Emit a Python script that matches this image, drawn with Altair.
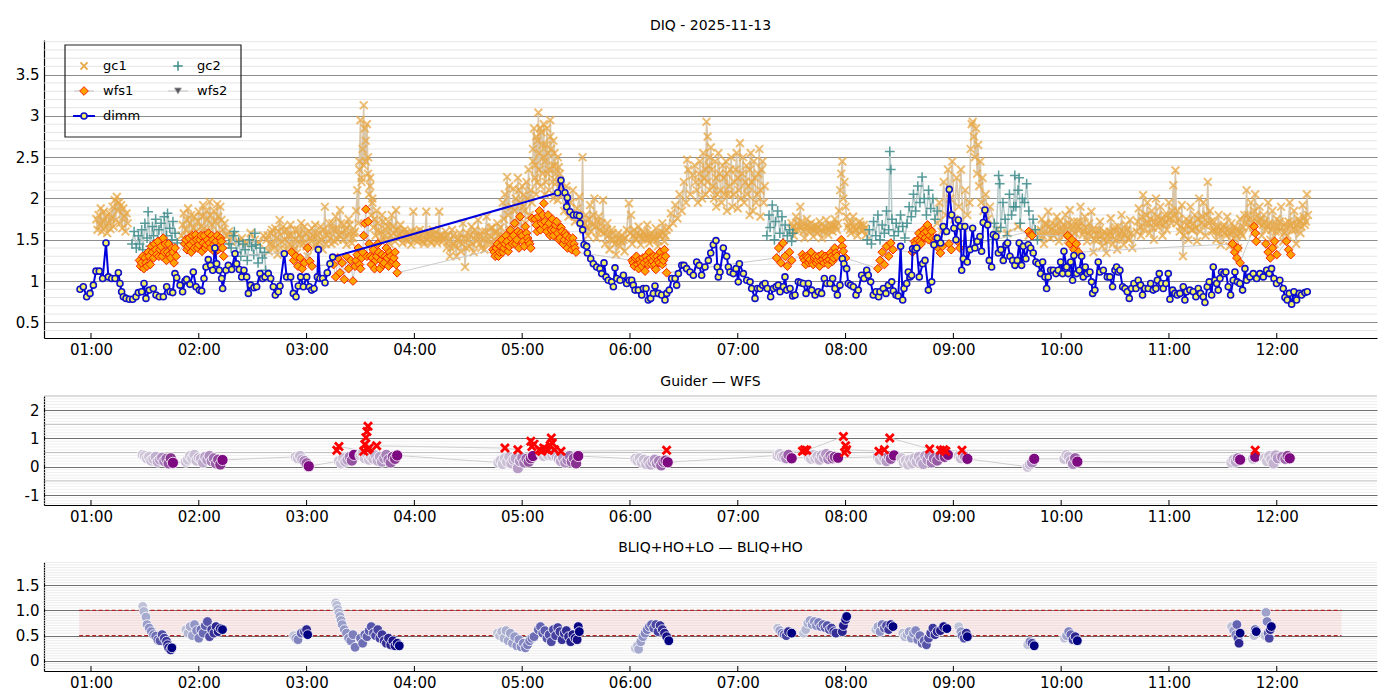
import altair as alt
import pandas as pd
import numpy as np

FONT = "DejaVu Sans"
X_DOMAIN = [0.564, 12.93]
HOUR_TICKS = [1, 2, 3, 4, 5, 6, 7, 8, 9, 10, 11, 12]
Y1_DOMAIN = [0.31, 3.92]
Y2_DOMAIN = [-1.35, 2.5]
Y3_DOMAIN = [-0.2, 1.96]
BAND_LIMITS = [0.5, 1.0]
BAND_SPAN = [0.89, 12.6]
W = 1333
H1, H2, H3 = 298, 109, 109

# ---------------- DIQ panel data (hour, arcsec) ----------------
dimm = [
    (0.898, 0.90), (0.929, 0.93), (0.960, 0.81), (0.991, 0.85), (1.022, 0.95), (1.046, 1.12), (1.077, 1.12),
    (1.108, 1.03), (1.139, 1.46), (1.161, 1.05), (1.192, 1.03), (1.223, 1.03), (1.254, 1.10), (1.269, 0.97),
    (1.284, 0.87), (1.300, 0.81), (1.325, 0.79), (1.356, 0.78), (1.387, 0.78), (1.417, 0.81), (1.439, 0.86),
    (1.470, 0.87), (1.492, 0.97), (1.510, 0.79), (1.541, 0.89), (1.578, 0.91), (1.603, 0.83), (1.634, 0.81),
    (1.671, 0.81), (1.702, 0.93), (1.733, 0.87), (1.758, 0.86), (1.779, 1.09), (1.795, 1.04), (1.826, 0.95),
    (1.850, 0.87), (1.872, 1.00), (1.887, 1.02), (1.918, 0.96), (1.949, 1.11), (1.974, 0.93), (2.005, 0.89),
    (2.027, 0.88), (2.048, 1.03), (2.067, 1.17), (2.088, 1.26), (2.110, 1.19), (2.129, 1.13), (2.150, 1.40),
    (2.166, 1.21), (2.190, 1.13), (2.212, 1.03), (2.221, 0.91), (2.252, 1.13), (2.274, 1.19), (2.305, 1.14),
    (2.336, 1.33), (2.351, 1.21), (2.376, 1.14), (2.398, 1.05), (2.419, 1.13), (2.444, 1.05), (2.460, 0.85),
    (2.481, 0.95), (2.512, 0.92), (2.537, 0.93), (2.568, 1.09), (2.592, 1.03), (2.614, 1.05), (2.645, 1.09),
    (2.667, 1.03), (2.691, 0.93), (2.710, 0.83), (2.738, 0.87), (2.753, 0.94), (2.793, 1.33), (2.815, 1.05),
    (2.852, 1.05), (2.877, 0.85), (2.902, 0.81), (2.923, 0.94), (2.945, 1.05), (2.970, 0.93), (3.001, 1.05),
    (3.025, 0.93), (3.047, 0.89), (3.069, 0.91), (3.100, 1.05), (3.109, 1.38), (3.124, 1.03), (3.149, 1.03),
    (3.171, 0.98), (3.192, 1.10), (3.217, 1.21), (3.242, 1.29),
    (5.329, 2.07), (5.360, 2.22), (5.397, 2.07), (5.413, 1.90), (5.419, 2.01), (5.444, 1.84), (5.475, 1.80),
    (5.506, 1.80), (5.530, 1.79), (5.537, 1.70), (5.561, 1.62), (5.574, 1.44), (5.598, 1.42), (5.605, 1.34),
    (5.636, 1.27), (5.660, 1.21), (5.691, 1.17), (5.722, 1.15), (5.738, 1.09), (5.759, 1.22), (5.778, 1.05),
    (5.799, 1.01), (5.830, 0.99), (5.846, 0.93), (5.861, 1.16), (5.877, 1.03), (5.908, 1.01), (5.939, 1.07),
    (5.969, 0.97), (5.994, 1.01), (6.016, 1.01), (6.031, 0.95), (6.047, 0.89), (6.078, 0.89), (6.109, 0.83),
    (6.124, 0.91), (6.149, 0.91), (6.170, 0.77), (6.192, 0.79), (6.217, 0.85), (6.232, 0.94), (6.263, 0.85),
    (6.294, 0.83), (6.325, 0.77), (6.341, 0.85), (6.365, 0.89), (6.387, 1.03), (6.418, 1.03), (6.433, 0.95),
    (6.449, 1.09), (6.480, 1.19), (6.501, 1.19), (6.526, 1.15), (6.557, 1.11), (6.588, 1.07), (6.619, 1.23),
    (6.643, 1.19), (6.665, 1.07), (6.696, 1.17), (6.727, 1.25), (6.749, 1.34), (6.773, 1.44), (6.798, 1.49),
    (6.810, 1.17), (6.820, 1.05), (6.835, 1.11), (6.866, 1.40), (6.897, 1.30), (6.913, 1.17), (6.928, 1.11),
    (6.959, 1.09), (6.984, 1.15), (7.005, 0.99), (7.015, 1.21), (7.052, 1.09), (7.083, 1.01), (7.114, 0.99),
    (7.129, 0.91), (7.160, 0.79), (7.182, 0.91), (7.206, 0.91), (7.231, 0.95), (7.253, 0.97), (7.274, 0.91),
    (7.305, 0.81), (7.330, 0.91), (7.355, 0.93), (7.376, 0.95), (7.392, 0.87), (7.423, 0.93), (7.438, 1.05),
    (7.454, 0.89), (7.485, 0.91), (7.509, 0.82), (7.531, 0.83), (7.562, 0.99), (7.583, 0.98), (7.608, 0.97),
    (7.633, 0.85), (7.655, 0.97), (7.686, 0.89), (7.717, 0.83), (7.747, 0.87), (7.778, 0.85), (7.803, 1.03),
    (7.825, 0.97), (7.856, 0.97), (7.880, 1.03), (7.902, 0.91), (7.924, 0.83), (7.948, 0.95), (7.970, 1.27),
    (7.985, 1.21), (8.010, 1.15), (8.025, 0.97), (8.047, 0.95), (8.072, 0.93), (8.097, 0.83), (8.118, 0.89),
    (8.149, 1.07), (8.171, 1.03), (8.196, 1.13), (8.211, 1.07), (8.233, 0.99), (8.257, 0.83), (8.282, 0.87),
    (8.307, 0.81), (8.319, 0.87), (8.350, 0.91), (8.375, 0.85), (8.397, 0.95), (8.428, 0.99), (8.443, 0.88),
    (8.468, 0.83), (8.489, 0.82), (8.511, 1.42), (8.530, 0.77), (8.542, 0.91), (8.567, 0.97), (8.582, 1.11),
    (8.598, 1.05), (8.613, 1.07), (8.622, 1.39), (8.644, 1.38), (8.660, 1.40), (8.684, 1.05), (8.715, 1.21),
    (8.737, 1.25), (8.768, 0.89), (8.799, 0.99), (8.820, 1.44), (8.851, 1.52),
    (8.882, 1.46), (8.906, 1.66), (8.937, 1.60), (8.962, 2.11), (8.984, 1.80), (9.005, 1.64), (9.024, 1.50),
    (9.046, 1.74), (9.067, 1.66), (9.077, 1.13), (9.092, 1.27), (9.107, 1.66), (9.129, 1.23), (9.154, 1.38),
    (9.179, 1.64), (9.200, 1.40), (9.222, 1.48), (9.247, 1.54), (9.262, 1.36), (9.277, 1.71), (9.293, 1.86),
    (9.318, 1.68), (9.333, 1.25), (9.355, 1.17), (9.370, 1.56), (9.395, 1.54), (9.417, 1.34), (9.441, 1.38),
    (9.463, 1.25), (9.488, 1.44), (9.503, 1.46), (9.525, 1.30), (9.550, 1.25), (9.571, 1.19), (9.593, 1.25),
    (9.611, 1.46), (9.633, 1.19), (9.649, 1.42), (9.673, 1.27), (9.695, 1.44), (9.717, 1.40), (9.741, 1.34),
    (9.766, 1.23), (9.788, 1.21), (9.809, 1.09), (9.828, 1.23), (9.850, 1.05), (9.865, 0.91), (9.880, 1.05),
    (9.902, 1.13), (9.927, 1.13), (9.952, 1.09), (9.973, 1.13), (9.995, 1.23), (10.013, 1.09), (10.026, 1.36),
    (10.050, 1.17), (10.066, 1.09), (10.088, 1.23), (10.106, 1.01), (10.118, 1.31), (10.143, 1.09), (10.168, 1.13),
    (10.190, 1.30), (10.205, 1.05), (10.224, 1.17), (10.242, 1.09), (10.267, 1.11), (10.282, 0.99), (10.292, 0.85),
    (10.313, 0.89), (10.344, 1.23), (10.360, 1.11), (10.391, 1.13), (10.428, 1.05), (10.452, 1.05), (10.477, 0.93),
    (10.499, 1.13), (10.514, 1.17), (10.530, 1.11), (10.545, 1.13), (10.570, 0.93), (10.592, 0.91), (10.613, 0.87),
    (10.632, 0.79), (10.653, 0.91), (10.675, 0.97), (10.694, 0.91), (10.715, 1.01), (10.737, 0.95), (10.755, 0.83),
    (10.777, 0.91), (10.808, 0.91), (10.830, 0.97), (10.854, 0.89), (10.879, 0.91), (10.892, 1.01), (10.910, 1.09),
    (10.932, 0.97), (10.947, 0.91), (10.972, 0.97), (10.994, 1.09), (11.009, 0.78), (11.034, 0.89), (11.055, 0.85),
    (11.077, 0.83), (11.102, 0.85), (11.133, 0.93), (11.148, 0.77), (11.164, 0.87), (11.194, 0.89), (11.225, 0.87),
    (11.250, 0.81), (11.272, 0.91), (11.293, 0.85), (11.318, 0.81), (11.334, 0.74), (11.355, 0.93), (11.374, 0.99),
    (11.396, 0.83), (11.411, 1.17), (11.426, 1.01), (11.442, 0.97), (11.457, 0.89), (11.473, 1.03), (11.488, 1.11),
    (11.510, 1.09), (11.528, 1.11), (11.550, 0.93), (11.572, 0.83), (11.596, 1.01), (11.612, 1.11), (11.634, 0.99),
    (11.658, 0.97), (11.683, 0.89), (11.705, 1.15), (11.720, 1.01), (11.751, 1.05), (11.782, 1.09), (11.813, 1.03),
    (11.844, 1.09), (11.875, 1.05), (11.906, 1.13), (11.930, 1.09), (11.952, 1.15), (11.974, 1.03), (11.998, 0.97),
    (12.029, 1.01), (12.060, 0.91), (12.076, 0.80), (12.097, 0.77), (12.116, 0.85), (12.138, 0.72), (12.159, 0.87),
    (12.184, 0.77), (12.209, 0.85), (12.230, 0.83), (12.261, 0.86), (12.283, 0.87),
]

gc1_main = [
    (1.05, 1.75), (1.06, 1.62), (1.07, 1.80), (1.08, 1.68), (1.09, 1.88), (1.10, 1.60), (1.11, 1.72), (1.12, 1.84),
    (1.13, 1.65), (1.14, 1.78), (1.15, 1.58), (1.16, 1.70), (1.17, 1.82), (1.18, 1.63), (1.19, 1.76), (1.20, 1.90),
    (1.21, 1.66), (1.22, 1.98), (1.23, 1.74), (1.24, 2.02), (1.25, 1.85), (1.26, 1.95), (1.27, 1.70), (1.28, 1.92),
    (1.29, 1.64), (1.30, 1.88), (1.31, 1.78), (1.32, 1.60), (1.33, 1.82), (1.34, 1.70),
    (1.84, 1.55), (1.85, 1.68), (1.86, 1.82), (1.87, 1.50), (1.88, 1.62), (1.89, 1.74), (1.90, 1.88), (1.91, 1.58),
    (1.92, 1.70), (1.93, 1.80), (1.94, 1.50), (1.95, 1.64), (1.96, 1.78), (1.97, 1.52), (1.98, 1.60), (1.99, 1.72),
    (2.00, 1.84), (2.01, 1.56), (2.02, 1.66), (2.03, 1.78), (2.04, 1.92), (2.05, 1.64), (2.06, 1.58), (2.07, 1.85),
    (2.08, 1.75), (2.09, 1.60), (2.10, 1.96), (2.11, 1.80), (2.12, 1.68), (2.13, 1.52), (2.14, 1.85), (2.15, 1.72),
    (2.16, 1.55), (2.17, 1.93), (2.18, 1.78), (2.19, 1.58), (2.20, 1.90), (2.21, 1.74), (2.22, 1.62), (2.23, 1.50),
    (2.24, 1.70), (2.26, 1.55), (2.28, 1.60), (2.30, 1.48),
    (2.32, 1.55), (2.36, 1.48), (2.40, 1.52), (2.44, 1.45), (2.48, 1.58), (2.52, 1.50), (2.56, 1.46), (2.60, 1.55),
    (2.63, 1.50), (2.65, 1.36), (2.67, 1.58), (2.69, 1.44), (2.71, 1.64), (2.73, 1.32), (2.75, 1.74), (2.77, 1.48),
    (2.79, 1.60), (2.81, 1.38), (2.83, 1.55), (2.85, 1.68), (2.87, 1.42), (2.89, 1.62), (2.91, 1.34), (2.93, 1.56),
    (2.95, 1.70), (2.97, 1.45), (2.99, 1.58), (3.01, 1.30), (3.03, 1.52), (3.05, 1.64), (3.07, 1.40), (3.09, 1.56),
    (3.11, 1.48), (3.13, 1.66), (3.15, 1.38), (3.17, 1.90), (3.19, 1.55), (3.21, 1.70), (3.23, 1.45), (3.25, 1.62),
    (3.27, 1.78), (3.29, 1.50), (3.31, 1.86), (3.33, 1.58), (3.35, 1.68), (3.37, 1.44), (3.39, 1.75), (3.41, 1.60),
    (3.43, 1.52),
    (3.45, 1.60), (3.46, 1.85), (3.47, 2.10), (3.48, 1.70), (3.49, 2.35), (3.49, 2.45), (3.50, 2.95), (3.51, 2.20),
    (3.51, 2.25), (3.52, 2.60), (3.53, 3.13), (3.53, 2.40), (3.54, 2.85), (3.55, 2.45), (3.55, 2.70), (3.56, 2.90),
    (3.57, 2.30), (3.57, 2.50), (3.58, 2.05), (3.59, 2.15), (3.59, 2.25), (3.60, 1.80), (3.61, 1.95), (3.61, 2.00),
    (3.62, 1.65), (3.63, 1.75), (3.64, 1.55), (3.65, 1.85),
    (3.67, 1.62), (3.69, 1.48), (3.71, 1.72), (3.73, 1.55), (3.75, 1.66), (3.77, 1.45), (3.79, 1.80), (3.81, 1.58),
    (3.83, 1.86), (3.85, 1.52), (3.87, 1.68), (3.89, 1.46), (3.91, 1.62), (3.93, 1.50), (3.95, 1.58), (3.97, 1.44),
    (3.99, 1.84), (4.01, 1.55), (4.03, 1.48), (4.05, 1.62), (4.07, 1.50), (4.09, 1.45), (4.11, 1.84), (4.13, 1.58),
    (4.15, 1.48), (4.17, 1.62), (4.19, 1.52), (4.21, 1.46), (4.23, 1.84), (4.25, 1.56), (4.27, 1.50), (4.29, 1.60),
    (4.30, 1.40), (4.31, 1.55), (4.33, 1.30), (4.35, 1.62), (4.37, 1.45), (4.39, 1.30), (4.41, 1.52), (4.43, 1.36),
    (4.45, 1.70), (4.47, 1.17), (4.49, 1.58), (4.51, 1.42), (4.53, 1.66), (4.55, 1.35), (4.57, 1.55), (4.59, 1.74),
    (4.61, 1.45), (4.63, 1.60), (4.65, 1.38), (4.67, 1.78), (4.69, 1.50), (4.71, 1.64), (4.73, 1.42), (4.75, 1.58),
    (4.77, 1.70), (4.79, 1.48),
    (4.81, 1.55), (4.83, 1.75), (4.85, 1.45), (4.86, 2.26), (4.87, 1.80), (4.89, 1.62), (4.91, 1.50), (4.92, 2.12),
    (4.93, 1.85), (4.95, 1.66), (4.97, 1.72), (4.97, 2.10), (4.99, 1.58), (5.01, 1.90), (5.01, 2.04), (5.03, 1.70),
    (5.05, 2.00), (5.07, 1.80),
    (5.08, 2.10), (5.09, 1.95), (5.10, 2.45), (5.12, 2.25), (5.13, 2.05), (5.14, 2.70), (5.15, 3.04), (5.16, 2.35),
    (5.17, 2.15), (5.18, 2.80), (5.20, 2.50), (5.21, 2.05), (5.22, 2.65), (5.24, 2.30), (5.25, 2.10), (5.26, 2.75),
    (5.28, 2.40), (5.29, 2.00), (5.30, 2.55), (5.32, 2.20), (5.33, 1.98), (5.34, 2.38), (5.36, 2.12),
    (5.37, 2.05), (5.39, 1.85), (5.41, 2.15), (5.43, 1.78), (5.45, 1.95), (5.47, 2.10), (5.49, 1.72), (5.51, 1.88),
    (5.53, 2.02), (5.55, 1.70),
    (5.56, 2.50), (5.57, 1.62), (5.59, 1.80), (5.61, 1.55), (5.63, 1.92), (5.65, 1.68), (5.67, 2.00), (5.69, 1.52),
    (5.71, 1.78), (5.73, 1.60), (5.75, 1.98), (5.77, 1.45), (5.79, 1.70), (5.81, 1.38), (5.83, 1.62), (5.85, 1.50),
    (5.87, 1.32), (5.89, 1.58), (5.91, 1.42), (5.93, 1.55), (5.95, 1.36), (5.97, 1.62),
    (5.99, 1.94), (6.00, 1.58), (6.01, 1.80), (6.02, 1.45), (6.04, 1.62), (6.06, 1.50), (6.08, 1.66), (6.10, 1.44),
    (6.12, 1.60), (6.14, 1.52), (6.16, 1.68), (6.18, 1.46), (6.20, 1.58), (6.22, 1.50), (6.24, 1.64), (6.26, 1.42),
    (6.28, 1.56), (6.30, 1.70), (6.32, 1.48), (6.34, 1.62),
    (6.36, 1.65), (6.38, 1.82), (6.40, 1.70), (6.42, 1.92), (6.44, 1.76), (6.46, 2.05), (6.48, 1.85), (6.50, 2.20),
    (6.52, 1.95), (6.53, 2.47), (6.54, 2.35), (6.56, 2.05), (6.58, 2.28), (6.60, 2.40), (6.62, 2.10), (6.64, 2.30),
    (6.66, 2.20), (6.67, 2.00), (6.68, 2.55), (6.70, 2.35), (6.71, 2.93), (6.72, 2.75), (6.73, 2.40), (6.74, 2.10),
    (6.75, 2.62), (6.77, 2.15), (6.79, 2.45), (6.80, 1.90), (6.81, 2.05), (6.83, 2.30), (6.85, 1.95),
    (6.87, 2.25), (6.89, 2.45), (6.90, 1.85), (6.91, 2.05), (6.93, 2.35), (6.95, 1.90), (6.97, 2.20), (6.99, 2.55),
    (7.00, 1.88), (7.01, 2.10), (7.02, 2.67), (7.04, 2.30), (7.06, 1.95), (7.08, 2.40), (7.10, 2.15), (7.11, 1.80),
    (7.12, 2.55), (7.14, 1.85), (7.16, 2.25), (7.18, 2.05), (7.20, 2.60), (7.21, 1.78), (7.22, 2.35), (7.24, 1.95),
    (7.25, 2.15),
    (7.50, 1.70), (7.52, 1.55), (7.54, 1.78), (7.56, 1.62), (7.58, 1.90), (7.60, 1.66), (7.62, 1.52), (7.64, 1.75),
    (7.66, 1.60), (7.68, 1.70), (7.70, 1.54), (7.72, 1.68), (7.74, 1.58), (7.76, 1.72), (7.78, 1.52), (7.80, 1.64),
    (7.82, 1.74), (7.84, 1.56), (7.86, 1.68), (7.88, 1.60), (7.90, 1.75), (7.92, 1.62), (7.94, 1.85), (7.95, 2.10),
    (7.96, 2.30), (7.97, 2.45), (7.98, 2.00), (7.99, 2.20), (8.00, 1.90), (8.01, 1.78), (8.03, 1.70), (8.05, 1.58),
    (8.07, 1.78), (8.09, 1.62), (8.11, 1.55), (8.13, 1.72), (8.15, 1.60), (8.17, 1.68), (8.19, 1.56),
    (8.85, 1.70), (8.87, 1.95), (8.89, 1.60), (8.91, 2.20), (8.93, 1.80), (8.95, 2.35), (8.97, 2.00), (8.99, 2.45),
    (9.01, 1.75), (9.03, 2.25), (9.05, 1.90), (9.07, 2.35), (9.09, 1.65), (9.11, 2.10), (9.13, 1.80), (9.15, 1.95),
    (9.16, 2.60), (9.17, 2.90), (9.18, 2.93), (9.19, 2.75), (9.20, 2.50), (9.21, 2.85), (9.22, 2.30), (9.23, 2.65),
    (9.24, 2.15), (9.25, 2.45), (9.26, 1.95), (9.27, 2.25), (9.28, 1.85), (9.30, 2.05), (9.32, 1.75), (9.34, 1.90),
    (9.40, 1.62), (9.50, 1.58), (9.60, 1.66), (9.70, 1.55), (9.76, 1.60),
    (9.80, 1.55), (9.82, 1.75), (9.84, 1.45), (9.86, 1.68), (9.88, 1.84), (9.90, 1.52), (9.92, 1.70), (9.94, 1.60),
    (9.96, 1.78), (9.98, 1.48), (10.00, 1.65), (10.02, 1.55), (10.04, 1.80), (10.06, 1.50), (10.08, 1.86),
    (10.10, 1.62), (10.12, 1.72), (10.14, 1.44), (10.16, 1.66), (10.18, 1.90), (10.20, 1.56), (10.22, 1.78),
    (10.24, 1.48), (10.26, 1.70), (10.28, 1.84), (10.30, 1.35), (10.32, 1.62), (10.34, 1.50), (10.36, 1.72),
    (10.38, 1.42), (10.40, 1.60), (10.42, 1.34), (10.44, 1.55), (10.46, 1.76), (10.48, 1.45), (10.50, 1.65),
    (10.52, 1.38), (10.54, 1.58), (10.56, 1.80), (10.58, 1.44), (10.60, 1.68), (10.62, 1.52), (10.64, 1.74),
    (10.66, 1.40), (10.70, 1.60), (10.72, 1.88), (10.74, 1.55), (10.76, 2.04), (10.78, 1.70), (10.80, 1.95),
    (10.82, 1.58), (10.84, 1.85), (10.86, 1.50), (10.88, 2.00), (10.90, 1.65), (10.92, 1.90), (10.94, 1.55),
    (10.96, 1.80), (10.98, 1.62), (11.00, 1.95), (11.02, 1.70), (11.04, 2.16), (11.06, 2.34), (11.08, 1.85),
    (11.10, 1.60), (11.12, 1.92), (11.13, 1.30), (11.14, 1.55), (11.16, 1.75), (11.18, 1.50), (11.20, 1.90),
    (11.22, 1.62), (11.24, 1.80), (11.26, 1.48), (11.28, 2.00), (11.30, 1.70), (11.32, 1.95), (11.34, 1.55),
    (11.36, 2.20), (11.38, 1.85), (11.40, 1.60), (11.42, 1.72), (11.44, 1.50), (11.46, 1.80), (11.48, 1.44),
    (11.50, 1.66), (11.52, 1.58), (11.54, 1.78), (11.56, 1.42), (11.58, 1.70), (11.60, 1.52), (11.62, 1.62),
    (11.64, 1.40), (11.66, 1.75), (11.68, 1.55), (11.70, 1.80), (11.72, 2.10), (11.74, 1.65), (11.76, 1.95),
    (11.78, 1.58), (11.80, 2.05), (11.82, 1.72), (11.84, 1.90), (11.86, 1.55), (11.88, 1.80), (11.90, 1.62),
    (11.92, 1.95), (11.94, 1.50), (11.96, 1.85), (11.98, 1.45), (12.00, 1.75), (12.02, 1.60), (12.04, 1.90),
    (12.06, 1.48), (12.08, 1.70), (12.10, 1.55), (12.12, 1.95), (12.14, 1.62), (12.16, 1.85), (12.18, 1.45),
    (12.20, 1.75), (12.22, 1.58), (12.24, 1.92), (12.26, 1.68), (12.28, 2.05), (12.29, 1.80),
]

# denser interior readings of the gc1 cloud
gc1_core = [
    (2.64, 1.55), (2.66, 1.45), (2.68, 1.62), (2.70, 1.40), (2.72, 1.52), (2.74, 1.60), (2.76, 1.40), (2.78, 1.66),
    (2.80, 1.50), (2.82, 1.62), (2.84, 1.45), (2.86, 1.55), (2.88, 1.38), (2.90, 1.50), (2.92, 1.62), (2.94, 1.45),
    (2.96, 1.52), (2.98, 1.66), (3.00, 1.42), (3.02, 1.60), (3.04, 1.48), (3.06, 1.55), (3.08, 1.68), (3.10, 1.45),
    (3.12, 1.58), (3.14, 1.50), (3.16, 1.62), (3.18, 1.45), (3.20, 1.60), (3.22, 1.52), (3.24, 1.70), (3.26, 1.48),
    (3.28, 1.62), (3.30, 1.56), (3.32, 1.70), (3.34, 1.50), (3.36, 1.62), (3.38, 1.55), (3.40, 1.68), (3.42, 1.46),
    (3.44, 1.58),
    (3.66, 1.70), (3.68, 1.58), (3.70, 1.80), (3.72, 1.50), (3.74, 1.62), (3.76, 1.72), (3.78, 1.55), (3.80, 1.66),
    (3.82, 1.48), (3.84, 1.62), (3.86, 1.56), (3.88, 1.60), (3.90, 1.52), (3.92, 1.58), (3.94, 1.48), (3.96, 1.55),
    (3.98, 1.60), (4.00, 1.50), (4.02, 1.60), (4.04, 1.52), (4.06, 1.56), (4.08, 1.48), (4.10, 1.58), (4.12, 1.50),
    (4.14, 1.55), (4.16, 1.46), (4.18, 1.56), (4.20, 1.60), (4.22, 1.50), (4.24, 1.55), (4.26, 1.48), (4.28, 1.54),
    (4.32, 1.48), (4.34, 1.40), (4.36, 1.55), (4.38, 1.42), (4.40, 1.50), (4.42, 1.58), (4.44, 1.45), (4.46, 1.52),
    (4.48, 1.40), (4.50, 1.50), (4.52, 1.56), (4.54, 1.45), (4.56, 1.62), (4.58, 1.48), (4.60, 1.55), (4.62, 1.40),
    (4.64, 1.52), (4.66, 1.60), (4.68, 1.45), (4.70, 1.55), (4.72, 1.65), (4.74, 1.50), (4.76, 1.60), (4.78, 1.55),
    (4.80, 1.65),
    (4.82, 1.95), (4.84, 2.05), (4.88, 2.15), (4.90, 1.90), (4.94, 2.00), (4.96, 2.25), (4.98, 1.95), (5.00, 2.15),
    (5.02, 1.85), (5.04, 2.20), (5.06, 2.35),
    (5.10, 2.60), (5.11, 2.85), (5.12, 2.40), (5.13, 2.75), (5.14, 2.20), (5.16, 2.55), (5.17, 2.85), (5.19, 2.65),
    (5.19, 2.30), (5.20, 2.90), (5.21, 2.45), (5.22, 2.20), (5.23, 2.85), (5.24, 2.55), (5.25, 2.35), (5.26, 2.95),
    (5.27, 2.60), (5.28, 2.20), (5.29, 2.70), (5.30, 2.40), (5.31, 2.30), (5.33, 2.50), (5.35, 2.30),
    (5.58, 1.70), (5.60, 1.65), (5.62, 1.75), (5.64, 1.60), (5.66, 1.80), (5.68, 1.66), (5.70, 1.72), (5.72, 1.62),
    (5.74, 1.70), (5.76, 1.58), (5.78, 1.62), (5.80, 1.55), (5.82, 1.50), (5.84, 1.58), (5.86, 1.45), (5.88, 1.50),
    (5.90, 1.52), (5.92, 1.48), (5.94, 1.50), (5.96, 1.52), (6.03, 1.55), (6.05, 1.52), (6.07, 1.58), (6.09, 1.55),
    (6.11, 1.52), (6.13, 1.58), (6.15, 1.55), (6.17, 1.50), (6.19, 1.55), (6.21, 1.52), (6.23, 1.55), (6.25, 1.50),
    (6.27, 1.55), (6.29, 1.60), (6.31, 1.58), (6.33, 1.55),
    (6.61, 2.20), (6.63, 1.95), (6.65, 2.45), (6.69, 2.25), (6.70, 2.05), (6.72, 2.20), (6.74, 2.50), (6.76, 2.35),
    (6.78, 2.00), (6.80, 2.25), (6.82, 2.55), (6.84, 2.10), (6.86, 2.40), (6.88, 2.05), (6.90, 2.30), (6.92, 2.15),
    (6.94, 2.50), (6.96, 2.05), (6.98, 2.35), (7.00, 2.25), (7.03, 2.00), (7.05, 2.50), (7.07, 2.20), (7.09, 2.05),
    (7.11, 2.35), (7.13, 2.20), (7.15, 2.45), (7.17, 1.95), (7.19, 2.30), (7.21, 2.10), (7.23, 2.45),
    (7.51, 1.66), (7.53, 1.62), (7.55, 1.70), (7.57, 1.66), (7.59, 1.72), (7.61, 1.60), (7.63, 1.66), (7.65, 1.68),
    (7.67, 1.64), (7.69, 1.62), (7.71, 1.62), (7.73, 1.64), (7.75, 1.65), (7.77, 1.62), (7.79, 1.60), (7.81, 1.66),
    (7.83, 1.64), (7.85, 1.62), (7.87, 1.66), (7.89, 1.68), (7.91, 1.66), (7.93, 1.70), (8.02, 1.66), (8.04, 1.62),
    (8.06, 1.70), (8.08, 1.66), (8.10, 1.62), (8.12, 1.66), (8.14, 1.68), (8.16, 1.62), (8.18, 1.64),
    (9.81, 1.62), (9.83, 1.55), (9.85, 1.70), (9.87, 1.58), (9.89, 1.66), (9.91, 1.62), (9.93, 1.55), (9.95, 1.68),
    (9.97, 1.58), (9.99, 1.72), (10.01, 1.60), (10.03, 1.68), (10.05, 1.62), (10.07, 1.70), (10.09, 1.55),
    (10.11, 1.66), (10.13, 1.58), (10.15, 1.72), (10.17, 1.62), (10.19, 1.70), (10.21, 1.60), (10.23, 1.65),
    (10.25, 1.58), (10.27, 1.55), (10.29, 1.62), (10.31, 1.50), (10.33, 1.56), (10.35, 1.62), (10.37, 1.55),
    (10.39, 1.50), (10.41, 1.58), (10.43, 1.48), (10.45, 1.60), (10.47, 1.55), (10.49, 1.62), (10.51, 1.50),
    (10.53, 1.66), (10.55, 1.52), (10.57, 1.60), (10.59, 1.55), (10.61, 1.62), (10.63, 1.50), (10.65, 1.58),
    (10.71, 1.72), (10.73, 1.65), (10.75, 1.78), (10.77, 1.62), (10.79, 1.80), (10.81, 1.70), (10.83, 1.75),
    (10.85, 1.65), (10.87, 1.72), (10.89, 1.78), (10.91, 1.70), (10.93, 1.75), (10.95, 1.68), (10.97, 1.72),
    (10.99, 1.80), (11.01, 1.75), (11.03, 1.85), (11.05, 1.78), (11.07, 1.70), (11.09, 1.75), (11.11, 1.66),
    (11.15, 1.62), (11.17, 1.68), (11.19, 1.72), (11.21, 1.62), (11.23, 1.70), (11.25, 1.64), (11.27, 1.75),
    (11.29, 1.60), (11.31, 1.78), (11.33, 1.68), (11.35, 1.80), (11.37, 1.70), (11.39, 1.72), (11.41, 1.62),
    (11.43, 1.60), (11.45, 1.65), (11.47, 1.58), (11.49, 1.62), (11.51, 1.68), (11.53, 1.55), (11.55, 1.62),
    (11.57, 1.58), (11.59, 1.60), (11.61, 1.66), (11.63, 1.55), (11.65, 1.62), (11.67, 1.58), (11.69, 1.65),
    (11.71, 1.72), (11.73, 1.80), (11.75, 1.75), (11.77, 1.70), (11.79, 1.85), (11.81, 1.78), (11.83, 1.70),
    (11.85, 1.75), (11.87, 1.68), (11.89, 1.72), (11.91, 1.66), (11.93, 1.70), (11.95, 1.62), (11.97, 1.68),
    (11.99, 1.60), (12.01, 1.66), (12.03, 1.72), (12.05, 1.65), (12.07, 1.58), (12.09, 1.65), (12.11, 1.72),
    (12.13, 1.68), (12.15, 1.70), (12.17, 1.62), (12.19, 1.68), (12.21, 1.72), (12.23, 1.66), (12.25, 1.78),
    (12.27, 1.72),
]

gc2 = [
    (1.38, 1.45), (1.40, 1.60), (1.42, 1.40), (1.44, 1.55), (1.45, 1.45), (1.47, 1.62), (1.48, 1.38), (1.50, 1.70),
    (1.52, 1.52), (1.53, 1.84), (1.55, 1.42), (1.57, 1.66), (1.58, 1.55), (1.60, 1.75), (1.62, 1.48), (1.63, 1.62),
    (1.65, 1.70), (1.67, 1.40), (1.68, 1.78), (1.70, 1.55), (1.71, 1.82), (1.73, 1.64), (1.75, 1.50), (1.76, 1.72),
    (1.78, 1.58), (1.80, 1.46),
    (2.28, 1.45), (2.30, 1.40), (2.32, 1.55), (2.33, 1.60), (2.35, 1.35), (2.37, 1.48), (2.39, 1.30), (2.41, 1.45),
    (2.43, 1.38), (2.45, 1.25), (2.47, 1.50), (2.49, 1.42), (2.51, 1.32), (2.52, 1.58), (2.53, 1.44), (2.55, 1.22),
    (2.57, 1.40), (2.59, 1.28), (2.61, 1.35), (2.62, 1.13),
    (7.27, 1.55), (7.29, 1.80), (7.30, 1.65), (7.32, 1.92), (7.34, 1.50), (7.35, 1.72), (7.37, 1.85), (7.39, 1.58),
    (7.41, 1.78), (7.42, 1.46), (7.44, 1.68), (7.46, 1.55), (7.48, 1.62), (7.50, 1.48), (7.51, 1.58),
    (8.20, 1.50), (8.22, 1.62), (8.24, 1.45), (8.26, 1.72), (8.28, 1.55), (8.30, 1.80), (8.32, 1.50), (8.34, 1.68),
    (8.36, 1.58), (8.38, 1.85), (8.40, 1.62), (8.41, 2.57), (8.42, 2.35), (8.43, 1.75), (8.45, 1.55), (8.47, 1.70),
    (8.49, 1.60), (8.51, 1.80), (8.53, 1.66), (8.55, 1.52),
    (8.57, 1.70), (8.59, 1.90), (8.61, 1.78), (8.63, 2.05), (8.65, 1.85), (8.67, 2.15), (8.69, 1.95), (8.71, 2.26),
    (8.73, 2.00), (8.75, 1.80), (8.77, 2.10), (8.79, 1.88), (8.81, 2.00), (8.83, 1.75), (8.85, 1.85),
    (9.36, 1.50), (9.38, 1.70), (9.40, 1.60), (9.42, 2.28), (9.43, 2.18), (9.44, 1.65), (9.46, 1.95), (9.48, 1.75),
    (9.50, 1.55), (9.52, 2.05), (9.54, 1.80), (9.56, 1.90), (9.57, 2.28), (9.58, 1.90), (9.60, 2.10), (9.61, 2.25),
    (9.62, 1.70), (9.64, 2.00), (9.66, 1.95), (9.68, 2.18), (9.70, 1.85), (9.72, 1.55), (9.74, 1.75), (9.76, 1.62),
    (9.78, 1.50),
]

wfs1_main = [
    (1.45, 1.25), (1.46, 1.18), (1.48, 1.30), (1.49, 1.15), (1.51, 1.22), (1.53, 1.35), (1.55, 1.20), (1.56, 1.42),
    (1.58, 1.28), (1.60, 1.38), (1.62, 1.48), (1.63, 1.30), (1.65, 1.42), (1.67, 1.52), (1.68, 1.35), (1.70, 1.25),
    (1.72, 1.45), (1.73, 1.32), (1.75, 1.40), (1.77, 1.22), (1.79, 1.30),
    (1.87, 1.45), (1.89, 1.38), (1.91, 1.52), (1.93, 1.35), (1.95, 1.48), (1.97, 1.56), (1.99, 1.40), (2.01, 1.50),
    (2.03, 1.36), (2.05, 1.55), (2.07, 1.44), (2.09, 1.58), (2.11, 1.40), (2.13, 1.50), (2.15, 1.35), (2.17, 1.55),
    (2.19, 1.42), (2.21, 1.48), (2.23, 1.30),
    (2.86, 1.35), (2.88, 1.25), (2.90, 1.30), (2.92, 1.18), (2.94, 1.28), (2.96, 1.15), (2.98, 1.22), (3.01, 1.40),
    (3.03, 1.24), (3.05, 1.18),
    (3.25, 1.20), (3.27, 1.05), (3.29, 1.28), (3.31, 1.10), (3.33, 1.22), (3.35, 1.02), (3.37, 1.30), (3.39, 1.15),
    (3.41, 1.25), (3.43, 1.00), (3.45, 1.18),
    (3.46, 1.25), (3.48, 1.40), (3.50, 1.15), (3.52, 1.35), (3.53, 1.55), (3.54, 1.70), (3.55, 1.87), (3.56, 1.30),
    (3.57, 1.72), (3.58, 1.45), (3.60, 1.20), (3.62, 1.38), (3.64, 1.25), (3.66, 1.45), (3.68, 1.15), (3.70, 1.32),
    (3.72, 1.22), (3.74, 1.40), (3.76, 1.18), (3.78, 1.30), (3.80, 1.24), (3.82, 1.35), (3.84, 1.10),
    (4.73, 1.38), (4.75, 1.30), (4.77, 1.45), (4.79, 1.35), (4.81, 1.50), (4.83, 1.40), (4.85, 1.55), (4.87, 1.36),
    (4.89, 1.62), (4.91, 1.45), (4.93, 1.70), (4.95, 1.50), (4.97, 1.40), (4.98, 1.78), (4.99, 1.58), (5.01, 1.48),
    (5.03, 1.66), (5.05, 1.52), (5.07, 1.45), (5.09, 1.76),
    (5.12, 1.75), (5.14, 1.60), (5.16, 1.85), (5.18, 1.70), (5.20, 1.94), (5.22, 1.65), (5.24, 1.80), (5.26, 1.55),
    (5.28, 1.75), (5.30, 1.62), (5.32, 1.72), (5.34, 1.50), (5.36, 1.65), (5.38, 1.45), (5.40, 1.58), (5.42, 1.40),
    (5.44, 1.52), (5.46, 1.38), (5.48, 1.45), (5.50, 1.35),
    (6.02, 1.25), (6.04, 1.18), (6.06, 1.30), (6.08, 1.15), (6.10, 1.22), (6.12, 1.28), (6.14, 1.12), (6.16, 1.25),
    (6.18, 1.35), (6.20, 1.20), (6.22, 1.30), (6.24, 1.14), (6.26, 1.25), (6.28, 1.35), (6.30, 1.20), (6.32, 1.38),
    (6.34, 1.10),
    (7.36, 1.28), (7.38, 1.40), (7.40, 1.22), (7.42, 1.46), (7.44, 1.30), (7.46, 1.18), (7.48, 1.35), (7.50, 1.25),
    (7.60, 1.32), (7.62, 1.25), (7.64, 1.30), (7.66, 1.22), (7.68, 1.35), (7.70, 1.20), (7.72, 1.30), (7.74, 1.25),
    (7.76, 1.18), (7.78, 1.32), (7.80, 1.22), (7.82, 1.28), (7.84, 1.20), (7.86, 1.34), (7.88, 1.24), (7.90, 1.40),
    (7.92, 1.30), (7.96, 1.50), (7.97, 1.42), (7.98, 1.36), (8.00, 1.28),
    (8.30, 1.15), (8.32, 1.25), (8.34, 1.35), (8.36, 1.20), (8.38, 1.42), (8.40, 1.30), (8.42, 1.46), (8.44, 1.38),
    (8.62, 1.35), (8.64, 1.48), (8.66, 1.40), (8.68, 1.58), (8.70, 1.45), (8.72, 1.62), (8.74, 1.52), (8.76, 1.68),
    (8.78, 1.55), (8.80, 1.60), (8.82, 1.45), (8.84, 1.52), (8.86, 1.40), (8.88, 1.34), (8.90, 1.42),
    (8.96, 1.45), (8.98, 1.38), (9.04, 1.48), (9.06, 1.40),
    (9.70, 1.60), (9.72, 1.56), (9.73, 1.55),
    (10.06, 1.55), (10.08, 1.45), (10.10, 1.50), (10.12, 1.38), (10.14, 1.45), (10.16, 1.35),
    (11.59, 1.45), (11.61, 1.35), (11.63, 1.28), (11.64, 1.40), (11.66, 1.22),
    (11.79, 1.66), (11.80, 1.58), (11.81, 1.48),
    (11.90, 1.45), (11.92, 1.35), (11.94, 1.28), (11.96, 1.40), (11.98, 1.48), (12.00, 1.32),
    (12.09, 1.48), (12.11, 1.38), (12.13, 1.32),
]

# denser interior readings of the wfs1 clusters
wfs1_core = [
    (1.47, 1.22), (1.50, 1.28), (1.52, 1.18), (1.54, 1.30), (1.57, 1.35), (1.59, 1.45), (1.61, 1.32), (1.64, 1.38),
    (1.66, 1.30), (1.69, 1.45), (1.71, 1.35), (1.74, 1.28), (1.76, 1.35), (1.78, 1.40),
    (1.88, 1.50), (1.90, 1.42), (1.92, 1.44), (1.94, 1.55), (1.96, 1.40), (1.98, 1.50), (2.00, 1.44), (2.02, 1.55),
    (2.04, 1.46), (2.06, 1.40), (2.08, 1.50), (2.10, 1.46), (2.12, 1.55), (2.14, 1.44), (2.16, 1.48), (2.18, 1.38),
    (2.20, 1.52), (2.22, 1.40),
    (3.47, 1.32), (3.49, 1.20), (3.51, 1.28), (3.59, 1.30), (3.61, 1.28), (3.63, 1.15), (3.65, 1.30), (3.67, 1.35),
    (3.69, 1.25), (3.71, 1.20), (3.73, 1.30), (3.75, 1.28), (3.77, 1.35), (3.79, 1.22), (3.81, 1.28), (3.83, 1.20),
    (4.74, 1.35), (4.76, 1.40), (4.78, 1.30), (4.80, 1.42), (4.82, 1.35), (4.84, 1.45), (4.86, 1.48), (4.88, 1.42),
    (4.90, 1.52), (4.92, 1.55), (4.94, 1.45), (4.96, 1.60), (5.00, 1.55), (5.02, 1.42), (5.04, 1.58), (5.06, 1.48),
    (5.08, 1.40),
    (5.13, 1.68), (5.15, 1.78), (5.17, 1.62), (5.19, 1.80), (5.21, 1.72), (5.23, 1.60), (5.25, 1.70), (5.27, 1.62),
    (5.29, 1.55), (5.31, 1.68), (5.33, 1.58), (5.35, 1.52), (5.37, 1.60), (5.39, 1.50), (5.41, 1.55), (5.43, 1.48),
    (5.45, 1.45), (5.47, 1.52), (5.49, 1.40),
    (6.03, 1.22), (6.05, 1.28), (6.07, 1.20), (6.09, 1.26), (6.11, 1.18), (6.13, 1.22), (6.15, 1.30), (6.17, 1.20),
    (6.19, 1.28), (6.21, 1.24), (6.23, 1.20), (6.25, 1.30), (6.27, 1.22), (6.29, 1.28), (6.31, 1.25), (6.33, 1.30),
    (7.61, 1.28), (7.63, 1.20), (7.65, 1.28), (7.67, 1.26), (7.69, 1.22), (7.71, 1.28), (7.73, 1.22), (7.75, 1.30),
    (7.77, 1.25), (7.79, 1.26), (7.81, 1.30), (7.83, 1.24), (7.85, 1.26), (7.87, 1.30), (7.89, 1.28), (7.91, 1.34),
    (8.63, 1.40), (8.65, 1.45), (8.67, 1.50), (8.69, 1.48), (8.71, 1.55), (8.73, 1.58), (8.75, 1.60), (8.77, 1.50),
    (8.79, 1.62), (8.81, 1.52), (8.83, 1.48),
]

# ---------------- Guider - WFS panel ----------------
guider = [
    (1.48, 0.42), (1.50, 0.38), (1.52, 0.30), (1.54, 0.35), (1.56, 0.22), (1.58, 0.28), (1.60, 0.35), (1.62, 0.18),
    (1.64, 0.25), (1.66, 0.32), (1.68, 0.20), (1.70, 0.28), (1.72, 0.12), (1.74, 0.30), (1.76, 0.14),
    (1.88, 0.18), (1.90, 0.25), (1.92, 0.38), (1.94, 0.30), (1.96, 0.42), (1.98, 0.22), (2.00, 0.32), (2.02, 0.28),
    (2.04, 0.15), (2.06, 0.35), (2.08, 0.25), (2.10, 0.38), (2.12, 0.20), (2.14, 0.30), (2.16, 0.12), (2.18, 0.25),
    (2.20, 0.08), (2.22, 0.24),
    (2.90, 0.35), (2.92, 0.30), (2.94, 0.38), (2.96, 0.25), (2.98, 0.20), (3.00, 0.12), (3.02, 0.02),
    (3.30, 0.20), (3.32, 0.12), (3.34, 0.30), (3.36, 0.18), (3.38, 0.25), (3.40, 0.35), (3.42, 0.22), (3.44, 0.42),
    (3.50, 0.40), (3.52, 0.48), (3.54, 0.30), (3.56, 0.45), (3.58, 0.25), (3.60, 0.35), (3.62, 0.28), (3.64, 0.40),
    (3.66, 0.22), (3.68, 0.35), (3.70, 0.18), (3.72, 0.30), (3.74, 0.42), (3.76, 0.25), (3.78, 0.15), (3.80, 0.35),
    (3.82, 0.28), (3.84, 0.40),
    (4.78, 0.15), (4.80, 0.22), (4.82, 0.10), (4.84, 0.30), (4.86, 0.18), (4.88, 0.35), (4.90, 0.12), (4.92, 0.25),
    (4.94, 0.30), (4.96, -0.05), (4.98, 0.20), (5.00, 0.32), (5.02, 0.15), (5.04, 0.28), (5.06, 0.18), (5.08, 0.30),
    (5.10, 0.38),
    (5.18, 0.45), (5.20, 0.38), (5.22, 0.50), (5.24, 0.42), (5.26, 0.55), (5.28, 0.40), (5.30, 0.48), (5.32, 0.35),
    (5.34, 0.28), (5.36, 0.20), (5.38, 0.32), (5.40, 0.15), (5.42, 0.25), (5.44, 0.38), (5.46, 0.18), (5.48, 0.30),
    (5.50, 0.12), (5.52, 0.38),
    (6.05, 0.28), (6.07, 0.22), (6.09, 0.30), (6.11, 0.15), (6.13, 0.25), (6.15, 0.10), (6.17, 0.20), (6.19, 0.08),
    (6.21, 0.18), (6.23, 0.25), (6.25, 0.12), (6.27, 0.20), (6.29, 0.05), (6.31, 0.18), (6.33, 0.22), (6.35, 0.16),
    (7.37, 0.40), (7.39, 0.45), (7.41, 0.35), (7.43, 0.38), (7.45, 0.30), (7.47, 0.42), (7.50, 0.30),
    (7.66, 0.35), (7.68, 0.28), (7.70, 0.42), (7.72, 0.30), (7.74, 0.38), (7.76, 0.25), (7.78, 0.40), (7.80, 0.32),
    (7.82, 0.45), (7.84, 0.28), (7.86, 0.38), (7.88, 0.30), (7.90, 0.35), (7.93, 0.32),
    (8.30, 0.35), (8.32, 0.25), (8.34, 0.42), (8.36, 0.30), (8.38, 0.20), (8.40, 0.38), (8.42, 0.28), (8.45, 0.40),
    (8.52, 0.30), (8.54, 0.15), (8.56, 0.22), (8.58, 0.08), (8.60, 0.25), (8.62, 0.12), (8.64, 0.30), (8.66, 0.18),
    (8.68, 0.35), (8.70, 0.20), (8.72, 0.10), (8.74, 0.38), (8.76, 0.25), (8.78, 0.42), (8.80, 0.15), (8.82, 0.30),
    (8.85, 0.22), (8.88, 0.40), (8.92, 0.35), (8.95, 0.42),
    (9.05, 0.38), (9.07, 0.30), (9.09, 0.42), (9.11, 0.35), (9.13, 0.28),
    (9.69, 0.00), (9.71, 0.08), (9.73, 0.15), (9.75, 0.28),
    (10.03, 0.28), (10.05, 0.42), (10.07, 0.35), (10.09, 0.20), (10.11, 0.10), (10.13, 0.30), (10.15, 0.18),
    (11.58, 0.15), (11.60, 0.25), (11.62, 0.18), (11.64, 0.30), (11.66, 0.25),
    (11.78, 0.28), (11.80, 0.35),
    (11.89, 0.30), (11.91, 0.20), (11.93, 0.38), (11.95, 0.25), (11.97, 0.12), (11.99, 0.40), (12.01, 0.30),
    (12.05, 0.35), (12.08, 0.28), (12.10, 0.38), (12.12, 0.30),
]

wfs_diff = [
    (3.28, 0.58), (3.30, 0.72), (3.53, 0.55), (3.54, 0.79), (3.55, 1.03), (3.56, 1.25), (3.565, 0.60), (3.57, 1.43),
    (3.58, 0.66), (3.65, 0.74),
    (4.84, 0.66), (4.96, 0.60), (5.08, 0.90), (5.09, 0.72), (5.11, 0.80), (5.16, 0.60), (5.18, 0.55), (5.20, 0.66),
    (5.22, 0.62), (5.24, 0.58), (5.26, 0.75), (5.27, 1.02), (5.28, 0.84), (5.30, 0.60), (5.36, 0.55), (6.34, 0.58),
    (7.60, 0.55), (7.62, 0.60), (7.64, 0.58), (7.98, 1.07), (7.99, 0.50), (8.00, 0.74), (8.01, 0.60),
    (8.31, 0.55), (8.36, 0.60), (8.41, 1.02), (8.78, 0.63), (8.88, 0.58), (8.91, 0.60), (8.93, 0.55), (9.08, 0.58),
    (11.80, 0.58),
]

# ---------------- BLIQ+HO+LO - BLIQ+HO panel ----------------
bliq = [
    (1.48, 1.08), (1.49, 0.98), (1.51, 0.87), (1.52, 0.72), (1.54, 0.65), (1.56, 0.58), (1.58, 0.52), (1.60, 0.49),
    (1.62, 0.42), (1.64, 0.40), (1.66, 0.52), (1.68, 0.45), (1.70, 0.39), (1.71, 0.32), (1.72, 0.26), (1.74, 0.22),
    (1.75, 0.26),
    (1.88, 0.62), (1.90, 0.55), (1.92, 0.68), (1.94, 0.50), (1.96, 0.72), (1.98, 0.60), (2.00, 0.45), (2.02, 0.62),
    (2.04, 0.55), (2.06, 0.70), (2.08, 0.78), (2.10, 0.48), (2.12, 0.62), (2.14, 0.55), (2.16, 0.68), (2.18, 0.58),
    (2.20, 0.64), (2.22, 0.62),
    (2.88, 0.50), (2.90, 0.45), (2.92, 0.42), (2.95, 0.55), (2.98, 0.58), (3.00, 0.62), (3.01, 0.52),
    (3.27, 1.15), (3.28, 1.10), (3.29, 1.02), (3.30, 0.95), (3.31, 0.88), (3.32, 0.80), (3.33, 0.72), (3.35, 0.62),
    (3.37, 0.55), (3.39, 0.45), (3.41, 0.40), (3.43, 0.52), (3.45, 0.27),
    (3.50, 0.45), (3.52, 0.35), (3.54, 0.52), (3.56, 0.48), (3.58, 0.60), (3.60, 0.68), (3.62, 0.55), (3.64, 0.50),
    (3.66, 0.62), (3.68, 0.45), (3.70, 0.52), (3.72, 0.40), (3.74, 0.35), (3.76, 0.45), (3.78, 0.32), (3.80, 0.40),
    (3.82, 0.30), (3.84, 0.35), (3.86, 0.30),
    (4.77, 0.55), (4.79, 0.50), (4.81, 0.58), (4.83, 0.45), (4.85, 0.60), (4.87, 0.40), (4.89, 0.55), (4.91, 0.35),
    (4.93, 0.48), (4.95, 0.30), (4.97, 0.42), (4.99, 0.28), (5.01, 0.35), (5.03, 0.26), (5.05, 0.32), (5.07, 0.40),
    (5.09, 0.45), (5.11, 0.48),
    (5.15, 0.62), (5.17, 0.68), (5.19, 0.55), (5.21, 0.60), (5.23, 0.45), (5.25, 0.52), (5.27, 0.38), (5.29, 0.62),
    (5.31, 0.50), (5.33, 0.66), (5.35, 0.58), (5.37, 0.42), (5.39, 0.55), (5.41, 0.60), (5.43, 0.48), (5.45, 0.38),
    (5.47, 0.52), (5.49, 0.45), (5.51, 0.42), (5.52, 0.68), (5.53, 0.58),
    (6.05, 0.25), (6.07, 0.30), (6.08, 0.23), (6.10, 0.38), (6.12, 0.48), (6.14, 0.55), (6.16, 0.62), (6.18, 0.68),
    (6.20, 0.72), (6.22, 0.65), (6.24, 0.72), (6.26, 0.58), (6.28, 0.70), (6.30, 0.62), (6.32, 0.55), (6.34, 0.48),
    (6.36, 0.40),
    (7.37, 0.65), (7.39, 0.60), (7.41, 0.55), (7.43, 0.52), (7.45, 0.50), (7.47, 0.58), (7.50, 0.55),
    (7.61, 0.55), (7.63, 0.62), (7.65, 0.75), (7.67, 0.80), (7.69, 0.72), (7.71, 0.78), (7.73, 0.70), (7.75, 0.76),
    (7.77, 0.68), (7.79, 0.72), (7.81, 0.66), (7.83, 0.70), (7.85, 0.62), (7.87, 0.65), (7.89, 0.58), (7.91, 0.55),
    (7.97, 0.58), (7.98, 0.70), (8.00, 0.82), (8.01, 0.88),
    (8.28, 0.62), (8.30, 0.68), (8.32, 0.58), (8.34, 0.72), (8.36, 0.65), (8.38, 0.70), (8.40, 0.62), (8.42, 0.72),
    (8.44, 0.68),
    (8.53, 0.55), (8.55, 0.48), (8.57, 0.52), (8.59, 0.58), (8.61, 0.45), (8.63, 0.55), (8.65, 0.60), (8.67, 0.42),
    (8.69, 0.50), (8.71, 0.35), (8.73, 0.40), (8.75, 0.32), (8.77, 0.45), (8.79, 0.55), (8.81, 0.65), (8.83, 0.52),
    (8.85, 0.58), (8.88, 0.60), (8.91, 0.68), (8.94, 0.64),
    (9.05, 0.68), (9.07, 0.58), (9.08, 0.50), (9.10, 0.45), (9.12, 0.55), (9.13, 0.48),
    (9.69, 0.32), (9.71, 0.38), (9.73, 0.35), (9.75, 0.30),
    (10.03, 0.45), (10.05, 0.50), (10.07, 0.58), (10.09, 0.52), (10.11, 0.42), (10.13, 0.48), (10.15, 0.40),
    (11.58, 0.68), (11.60, 0.60), (11.62, 0.52), (11.63, 0.72), (11.64, 0.45), (11.65, 0.35), (11.66, 0.55),
    (11.79, 0.50), (11.80, 0.62), (11.81, 0.58),
    (11.89, 0.50), (11.90, 0.96), (11.91, 0.78), (11.92, 0.55), (11.93, 0.45), (11.94, 0.62), (11.95, 0.68),
]


# ---------------- helpers ----------------
def frame(pts, gap=0.09):
    d = pd.DataFrame(pts, columns=["h", "v"]).sort_values("h", kind="stable").reset_index(drop=True)
    d["seg"] = (d["h"].diff() > gap).cumsum()
    n = d.groupby("seg")["h"].transform("count")
    d["r"] = d.groupby("seg").cumcount() / (n - 1).clip(lower=1)
    return d


XS = alt.Scale(domain=X_DOMAIN, nice=False, zero=False)
X_AXIS = alt.Axis(values=HOUR_TICKS, labelExpr="(datum.value < 10 ? '0' : '') + datum.value + ':00'",
                  grid=False, ticks=False, labelPadding=4, labelFlush=False, labelOverlap=False, tickCount=50,
                  domainColor="black", domainWidth=1.2, title=None)

X_PATH = "M-1,-1L1,1M-1,1L1,-1"
PLUS_PATH = "M-1,0L1,0M0,-1L0,1"


def xenc(axis=False):
    if axis:
        return alt.X("h:Q", scale=XS, axis=X_AXIS, title=None)
    return alt.X("h:Q", scale=XS, title=None)


def ticks_layer(height):
    return alt.Chart(pd.DataFrame({"h": HOUR_TICKS})).mark_rule(color="black", strokeWidth=1).encode(
        x=xenc(), y=alt.value(height), y2=alt.value(height - 5))


def minor_layer(vals, ys, color):
    return alt.Chart(pd.DataFrame({"v": vals})).mark_rule(color=color, strokeWidth=0.8).encode(
        y=alt.Y("v:Q", scale=ys, title=None))


def title(text):
    return alt.TitleParams(text, fontSize=14, font=FONT, fontWeight="normal", offset=7, anchor="middle",
                           frame="group", color="black")


def yaxis(values, expr, grid_color):
    return alt.Axis(values=values, labelExpr=expr, grid=True, gridColor=grid_color, gridWidth=1, ticks=False,
                    domainColor="black", domainWidth=1.2, labelPadding=5, labelOverlap=False, labelFlush=False,
                    tickCount=50, minExtent=30, maxExtent=30, title=None)


# ---------------- top panel ----------------
YS1 = alt.Scale(domain=Y1_DOMAIN, nice=False, zero=False)
Y1_AXIS = yaxis([0.5, 1, 1.5, 2, 2.5, 3, 3.5], "toString(datum.value)", "#8c8c8c")

d_dimm = frame(dimm, gap=99)
d_gc1 = frame(gc1_main + gc1_core, gap=0.1)
d_gc2 = frame(gc2, gap=0.1)
d_wfs1 = frame(wfs1_main + wfs1_core, gap=99)

minor1 = [round(x, 2) for x in np.arange(0.4, 3.91, 0.1) if abs(round(x * 2) - x * 2) > 0.01]


def y1(axis=False):
    if axis:
        return alt.Y("v:Q", scale=YS1, axis=Y1_AXIS, title=None)
    return alt.Y("v:Q", scale=YS1, title=None)


GC1_COLOR = "#E8A846"
GC2_COLOR = "#3E8C8C"
WFS_FILL = "#FFA200"
WFS_EDGE = "#F42000"

gc1_line = alt.Chart(d_gc1).mark_line(color="#d8c4a4", strokeWidth=1.6, opacity=0.95, clip=True).encode(
    x=xenc(), y=y1(), detail="seg:N")
gc1_pts = alt.Chart(d_gc1).mark_point(shape=X_PATH, size=60, filled=False, color=GC1_COLOR, strokeWidth=2,
                                      opacity=0.75, clip=True).encode(x=xenc(), y=y1())
gc2_line = alt.Chart(d_gc2).mark_line(color="#b4c8c8", strokeWidth=1.6, opacity=0.95, clip=True).encode(
    x=xenc(), y=y1(), detail="seg:N")
gc2_pts = alt.Chart(d_gc2).mark_point(shape=PLUS_PATH, size=95, filled=False, color=GC2_COLOR, strokeWidth=1.5,
                                      opacity=0.85, clip=True).encode(x=xenc(), y=y1())
wfs1_line = alt.Chart(d_wfs1).mark_line(color="#c4c4c4", strokeWidth=0.9, clip=True).encode(x=xenc(), y=y1())
wfs1_pts = alt.Chart(d_wfs1).mark_point(shape="diamond", size=75, filled=True, fill=WFS_FILL, stroke=WFS_EDGE,
                                        strokeWidth=1, opacity=1, clip=True).encode(x=xenc(), y=y1())
dimm_line = alt.Chart(d_dimm).mark_line(color="#0000DD", strokeWidth=2, clip=True).encode(x=xenc(), y=y1())
dimm_pts = alt.Chart(d_dimm).mark_point(shape="circle", size=36, filled=True, fill="#F2F266", stroke="#1010C8",
                                        strokeWidth=1.6, opacity=1, clip=True).encode(x=xenc(True), y=y1(True))

one = pd.DataFrame({"a": [0]})
legend_layers = [
    alt.Chart(one).mark_rect(fill="white", fillOpacity=0, stroke="#222222", strokeWidth=1.2).encode(
        x=alt.value(21), x2=alt.value(197), y=alt.value(5), y2=alt.value(97)),
    alt.Chart(one).mark_point(shape=X_PATH, size=50, filled=False, color=GC1_COLOR, strokeWidth=1.8, opacity=1).encode(
        x=alt.value(40), y=alt.value(26)),
    alt.Chart(one).mark_point(shape=PLUS_PATH, size=90, filled=False, color=GC2_COLOR, strokeWidth=1.5, opacity=1).encode(
        x=alt.value(134), y=alt.value(26)),
    alt.Chart(one).mark_rule(color="#c4c4c4", strokeWidth=1).encode(x=alt.value(30), x2=alt.value(50), y=alt.value(51)),
    alt.Chart(one).mark_point(shape="diamond", size=75, filled=True, fill=WFS_FILL, stroke=WFS_EDGE, strokeWidth=1,
                              opacity=1).encode(x=alt.value(40), y=alt.value(51)),
    alt.Chart(one).mark_rule(color="#c4c4c4", strokeWidth=1).encode(x=alt.value(124), x2=alt.value(144), y=alt.value(51)),
    alt.Chart(one).mark_point(shape="triangle-down", size=50, filled=True, fill="#555560", stroke="#aaaaaa",
                              strokeWidth=0.8, opacity=1).encode(x=alt.value(134), y=alt.value(51)),
    alt.Chart(one).mark_rule(color="#0000DD", strokeWidth=2).encode(x=alt.value(29), x2=alt.value(51), y=alt.value(76)),
    alt.Chart(one).mark_point(shape="circle", size=36, filled=True, fill="#F2F266", stroke="#1010C8", strokeWidth=1.6,
                              opacity=1).encode(x=alt.value(40), y=alt.value(76)),
]
for txt, lx, ly in [("gc1", 59, 26), ("gc2", 153, 26), ("wfs1", 59, 51), ("wfs2", 153, 51), ("dimm", 59, 76)]:
    legend_layers.append(alt.Chart(one).mark_text(text=txt, align="left", baseline="middle", fontSize=13, font=FONT,
                                                  color="black").encode(x=alt.value(lx), y=alt.value(ly)))

top = alt.layer(
    minor_layer(minor1, YS1, "#dedede"),
    gc1_line, gc1_pts, gc2_line, gc2_pts, wfs1_line, wfs1_pts, dimm_line, dimm_pts,
    ticks_layer(H1), *legend_layers,
).properties(width=W, height=H1, title=title("DIQ - 2025-11-13"))

# ---------------- middle panel ----------------
YS2 = alt.Scale(domain=Y2_DOMAIN, nice=False, zero=False)
Y2_AXIS = yaxis([-1, 0, 1, 2], "toString(datum.value)", "#707070")
d_guider = frame(guider, gap=0.06)
d_wdiff = frame(wfs_diff, gap=99)
minor2 = [round(x, 2) for x in np.arange(-1.3, 2.5, 0.1) if abs(round(x * 2) - x * 2) > 0.01]
half2 = [-0.5, 0.5, 1.5, 2.5]


def y2(axis=False):
    if axis:
        return alt.Y("v:Q", scale=YS2, axis=Y2_AXIS, title=None)
    return alt.Y("v:Q", scale=YS2, title=None)


mid = alt.layer(
    minor_layer(minor2, YS2, "#ebebeb"),
    minor_layer(half2, YS2, "#a8a8a8"),
    alt.Chart(d_guider).mark_line(color="#cfcfcf", strokeWidth=1, clip=True).encode(x=xenc(), y=y2()),
    alt.Chart(d_wdiff).mark_line(color="#cfcfcf", strokeWidth=1, clip=True).encode(x=xenc(), y=y2()),
    alt.Chart(d_guider).mark_point(shape="circle", size=125, filled=True, stroke="white", strokeWidth=0.8, opacity=1,
                                   clip=True).encode(
        x=xenc(True), y=y2(True),
        color=alt.Color("r:Q", scale=alt.Scale(type="pow", exponent=2.5, domain=[0, 1],
                                               range=["#cdc3d6", "#7d0a80"]), legend=None)),
    alt.Chart(d_wdiff).mark_point(shape=X_PATH, size=64, filled=False, color="#ff0000", strokeWidth=2.8, opacity=1,
                                  clip=True).encode(x=xenc(), y=y2()),
    ticks_layer(H2),
).properties(width=W, height=H2, title=title("Guider — WFS"))

# ---------------- bottom panel ----------------
YS3 = alt.Scale(domain=Y3_DOMAIN, nice=False, zero=False)
Y3_AXIS = yaxis([0, 0.5, 1.0, 1.5], "datum.value == 0 ? '0' : format(datum.value, '.1f')", "#707070")
d_bliq = frame(bliq, gap=0.06)
minor3 = [round(x, 2) for x in np.arange(-0.15, 1.96, 0.05) if abs(round(x * 2) - x * 2) > 0.01]
band_df = pd.DataFrame({"h": [BAND_SPAN[0]], "h2": [BAND_SPAN[1]], "lo": [BAND_LIMITS[0]], "hi": [BAND_LIMITS[1]]})
limit_df = pd.DataFrame({"h": [BAND_SPAN[0]] * 2, "h2": [BAND_SPAN[1]] * 2, "v": BAND_LIMITS})


def y3(axis=False, field="v:Q"):
    if axis:
        return alt.Y(field, scale=YS3, axis=Y3_AXIS, title=None)
    return alt.Y(field, scale=YS3, title=None)


bot = alt.layer(
    minor_layer(minor3, YS3, "#e6e6e6"),
    alt.Chart(band_df).mark_rect(color="#f6c6c6", opacity=0.35).encode(
        x=xenc(), x2="h2:Q", y=y3(field="lo:Q"), y2="hi:Q"),
    alt.Chart(limit_df).mark_rule(color="#b52020", strokeWidth=1.2, strokeDash=[4, 2.5]).encode(
        x=xenc(), x2="h2:Q", y=y3()),
    alt.Chart(d_bliq).mark_point(shape="circle", size=95, filled=True, stroke="white", strokeWidth=0.8, opacity=1,
                                 clip=True).encode(
        x=xenc(True), y=y3(True),
        color=alt.Color("r:Q", scale=alt.Scale(type="linear", domain=[0, 1],
                                               range=["#bfc2d6", "#000080"]), legend=None)),
    ticks_layer(H3),
).properties(width=W, height=H3, title=title("BLIQ+HO+LO — BLIQ+HO"))

chart = alt.vconcat(top, mid, bot, spacing=17).resolve_scale(color="independent").properties(
    padding={"left": 6, "top": 11, "right": 10, "bottom": 4}
).configure_view(stroke=None).configure_axis(
    labelFont=FONT, labelFontSize=15, labelColor="black"
)

chart.save("out.html", embed_options={"renderer": "svg", "actions": False})
